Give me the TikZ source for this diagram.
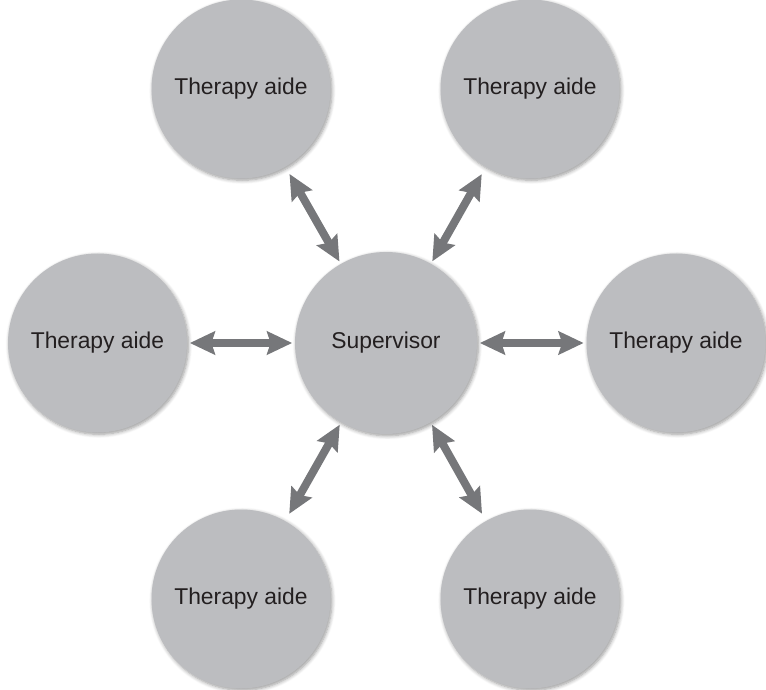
\documentclass[tikz,border=0pt]{standalone}
\usepackage{fontspec}
\setmainfont{Liberation Sans}
\usepackage{xcolor}
\usepackage{tikz}
\usetikzlibrary{arrows.meta,shadows.blur}
\definecolor{CircleGray}{HTML}{BCBDC0}
\definecolor{ArrowGray}{HTML}{76777A}
\definecolor{TextDark}{HTML}{231F20}
\tikzset{
  roleC/.style={circle,fill=CircleGray,draw=none,inner sep=0pt,
                minimum size=3.58cm,text=TextDark,font=\fontsize{13}{15}\selectfont,
                blur shadow={shadow xshift=0.8pt,shadow yshift=-1pt,
                             shadow blur steps=6,shadow opacity=40}},
  hubC/.style={roleC,minimum size=3.64cm},
  link/.style={{Stealth[length=0.5cm,width=0.46cm,inset=0.07cm]}-{Stealth[length=0.5cm,width=0.46cm,inset=0.07cm]},
               line width=0.16cm,draw=ArrowGray,
               shorten <=0.05cm,shorten >=0.05cm}
}
\begin{document}
\begin{tikzpicture}
  \useasboundingbox (0,0) rectangle (15.32,-13.8);

  % Hub
  \node[hubC] (sup) at (7.72,-6.86) {Supervisor};

  % Aides
  \node[roleC] (aideTL) at (4.82,-1.78) {Therapy aide};
  \node[roleC] (aideTR) at (10.60,-1.78) {Therapy aide};
  \node[roleC] (aideL) at (1.95,-6.86) {Therapy aide};
  \node[roleC] (aideR) at (13.52,-6.86) {Therapy aide};
  \node[roleC] (aideBL) at (4.82,-11.98) {Therapy aide};
  \node[roleC] (aideBR) at (10.60,-11.98) {Therapy aide};

  \draw[link,shorten <=0.16cm](aideTL)--(sup);
  \draw[link,shorten <=0.16cm](aideTR)--(sup);
  \draw[link](aideL)--(sup);
  \draw[link](aideR)--(sup);
  \draw[link,shorten <=0.16cm](aideBL)--(sup);
  \draw[link,shorten <=0.16cm](aideBR)--(sup);
\end{tikzpicture}
\end{document}
